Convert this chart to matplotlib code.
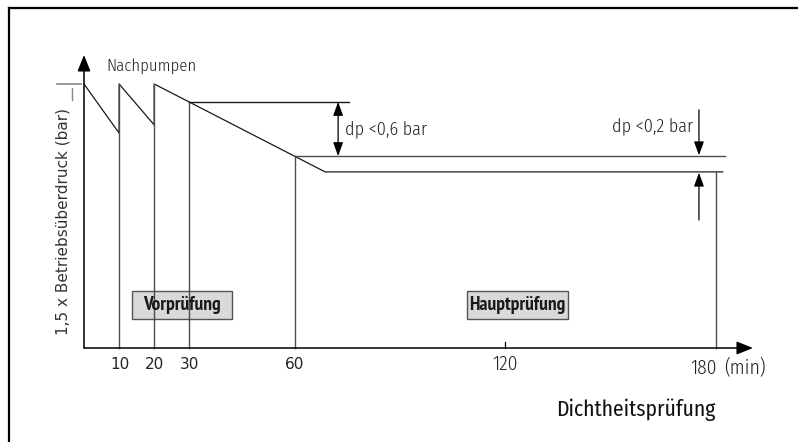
import matplotlib
matplotlib.use("Agg")
import matplotlib.pyplot as plt
from matplotlib.lines import Line2D
from matplotlib.patches import Rectangle, ArrowStyle

# Druckverlauf (min, relative Druckhoehe)
t_curve = [0, 10, 10, 20, 20, 68.7, 182]
p_curve = [10, 8.14, 10, 8.45, 10, 6.67, 6.67]

# senkrechte Linien vom Boden bis zur Kurve
t_drop = [10, 20, 30, 60, 180]
p_drop = [10, 10, 9.32, 7.27, 6.67]

# waagrechte Bezugslinien
ref_p = [9.32, 7.27]
ref_t0 = [30, 60]
ref_t1 = [75.5, 182.6]

tick_t = [10, 20, 30, 60]
tick_lbl = ["10", "20", "30", "60"]

fig = plt.figure(figsize=(7.98, 4.42), dpi=100)
ax = fig.add_axes([0, 0, 1, 1])
ax.set_xlim(-84 / 3.51, (798 - 84) / 3.51)
ax.set_ylim((348 - 442) / 26.4, 348 / 26.4)
ax.axis("off")

# Rahmen oben und links
fig.add_artist(Line2D([8.5 / 798, 1], [1 - 7.5 / 442] * 2, color="k", lw=1.6))
fig.add_artist(Line2D([8.5 / 798] * 2, [0, 1 - 7.5 / 442], color="k", lw=1.6))

lc = "#1a1a1a"
gc = "#4d4d4d"
ax.plot(t_curve, p_curve, color=lc, lw=0.9)
for t, p in zip(t_drop, p_drop):
    ax.plot([t, t], [0, p], color=gc, lw=1.0)
for p, a, b in zip(ref_p, ref_t0, ref_t1):
    ax.plot([a, b], [p, p], color=lc if p > 8 else gc, lw=1.0)

# Achsen mit Pfeil
ax_head = ArrowStyle("-|>", head_length=0.55, head_width=0.22)
ax.annotate("", xy=(0, 11.1), xytext=(0, 0),
            arrowprops=dict(arrowstyle=ax_head, color="k", lw=1.1,
                            mutation_scale=18, shrinkA=0, shrinkB=0))
ax.annotate("", xy=(190.6, 0), xytext=(0, 0),
            arrowprops=dict(arrowstyle=ax_head, color="k", lw=1.1,
                            mutation_scale=18, shrinkA=0, shrinkB=0))
ax.plot([120, 120], [0, 0.23], color="k", lw=0.9)

# kleine Markierung oben links
ax.plot([-7.7, -0.85], [10, 10], color="#888888", lw=1.2)
ax.plot([-3.42, -3.42], [9.85, 9.39], color="#888888", lw=1.0)

# dp Pfeile
hd = ArrowStyle("-|>", head_length=0.55, head_width=0.2)
hd2 = ArrowStyle("<|-|>", head_length=0.55, head_width=0.2)
ax.annotate("", xy=(72.4, 7.27), xytext=(72.4, 9.32),
            arrowprops=dict(arrowstyle=hd2, color="k", lw=0.9,
                            mutation_scale=15, shrinkA=0, shrinkB=0))
ax.annotate("", xy=(175.2, 7.3), xytext=(175.2, 9.02),
            arrowprops=dict(arrowstyle=hd, color="k", lw=0.9,
                            mutation_scale=15, shrinkA=0, shrinkB=0))
ax.annotate("", xy=(175.2, 6.64), xytext=(175.2, 4.85),
            arrowprops=dict(arrowstyle=hd, color="k", lw=0.9,
                            mutation_scale=15, shrinkA=0, shrinkB=0))

cond = ["Fira Sans Condensed", "DejaVu Sans"]
tc = "#222222"
ax.text(6.27, 10.68, "Nachpumpen", family=cond, weight=300, fontsize=12,
        color=tc, ha="left", va="center")
ax.text(74.4, 8.26, "dp <0,6 bar", family=cond, weight=300, fontsize=13,
        color=tc, ha="left", va="center")
ax.text(173.5, 8.37, "dp <0,2 bar", family=cond, weight=300, fontsize=13,
        color=tc, ha="right", va="center")

for t, s in zip(tick_t, tick_lbl):
    ax.text(t + 0.1, -0.61, s, family="DejaVu Sans", fontsize=11, color=tc,
            ha="center", va="center")
ax.text(120, -0.61, "120", family=cond, weight=300, fontsize=14, color=tc,
        ha="center", va="center")
ax.text(176.4, -0.76, "180", family=cond, weight=300, fontsize=14, color=tc,
        ha="center", va="center")
ax.text(188.2, -0.76, "(min)", family=cond, weight=300, fontsize=14, color=tc,
        ha="center", va="center")

ax.text(-5.98, 4.8, "1,5 x Betriebsüberdruck (bar)", family="DejaVu Sans",
        fontsize=11, color="#333333", rotation=90, ha="center", va="center")

ax.text(157.3, -2.35, "Dichtheitsprüfung", family=cond, weight=400,
        fontsize=15.5, color="#111111", ha="center", va="center")

# Phasen-Kaesten
for (t0, t1), s in zip([(13.68, 42.17), (109.1, 137.9)], ["Vorprüfung", "Hauptprüfung"]):
    ax.add_patch(Rectangle((t0, 1.10), t1 - t0, 1.06, facecolor="#d9d9d9",
                           edgecolor="#555555", lw=1.0))
    ax.text((t0 + t1) / 2, 1.63, s, family=["PT Sans Narrow", "DejaVu Sans"],
            weight="bold", fontsize=14, color="#1a1a1a", ha="center", va="center")

fig.savefig("out.png", dpi=100)
